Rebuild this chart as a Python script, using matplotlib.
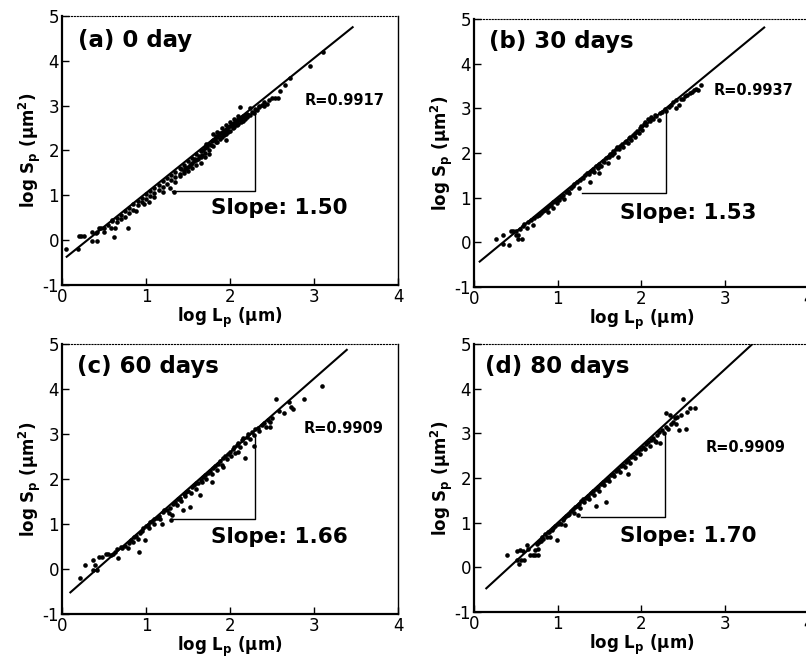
import numpy as np
import matplotlib
matplotlib.use("Agg")
import matplotlib.pyplot as plt

plt.rcParams['font.family'] = ['DejaVu Sans']
plt.rcParams['axes.unicode_minus'] = False

# panel labels and texts
titles = ['(a) 0 day', '(b) 30 days', '(c) 60 days', '(d) 80 days']
r_texts = ['R=0.9917', 'R=0.9937', 'R=0.9909', 'R=0.9909']
slope_texts = ['Slope: 1.50', 'Slope: 1.53', 'Slope: 1.66', 'Slope: 1.70']

# fitted line end points
fit_a = [(0.056, -0.37), (3.46, 4.75)]
fit_b = [(0.068, -0.43), (3.47, 4.81)]
fit_c = [(0.10, -0.52), (3.39, 4.87)]
fit_d = [(0.147, -0.47), (3.33, 5.0)]

# slope triangles: horizontal from x0 to x1 at y0, vertical at x1 up to y1
tri_a = [1.31, 2.30, 1.10, 2.90]
tri_b = [1.29, 2.30, 1.10, 2.96]
tri_c = [1.31, 2.30, 1.11, 2.96]
tri_d = [1.28, 2.28, 1.13, 2.99]

pts_a = [(0.05,-0.20),(0.19,-0.19),(0.20,0.09),(0.23,0.09),(0.26,0.09),(0.36,-0.03),
         (0.42,-0.03),(0.36,0.19),(0.40,0.17),(0.42,0.19),(0.44,0.27),(0.47,0.27),
         (0.62,0.07),(0.79,0.28),(0.50,0.27),(0.50,0.19),(0.55,0.33),(0.58,0.27),
         (0.60,0.42),(0.60,0.45),(0.63,0.27),(0.65,0.50),(0.65,0.40),(0.70,0.57),
         (0.70,0.48),(0.75,0.64),(0.75,0.52),(0.80,0.72),(0.80,0.60),(0.85,0.80),
         (0.85,0.68),(0.88,0.66),(0.90,0.87),(0.90,0.78),(0.95,0.94),(0.95,0.85),
         (0.98,0.80),(1.00,1.02),(1.00,0.92),(1.03,0.86),(1.05,1.09),(1.05,0.98),
         (1.10,1.16),(1.10,1.05),(1.10,0.96),(1.15,1.24),(1.15,1.12),(1.20,1.31),
         (1.20,1.18),(1.20,1.08),(1.25,1.39),(1.25,1.26),(1.28,1.16),(1.30,1.46),
         (1.30,1.34),(1.33,1.08),(1.35,1.53),(1.35,1.40),(1.35,1.30),(1.40,1.61),
         (1.40,1.48),(1.40,1.42),(1.45,1.68),(1.45,1.55),(1.45,1.50),(1.48,1.62),
         (1.50,1.76),(1.50,1.64),(1.50,1.55),(1.53,1.70),(1.55,1.84),(1.55,1.72),
         (1.55,1.62),(1.58,1.80),(1.60,1.92),(1.60,1.78),(1.60,1.68),(1.63,1.88),
         (1.65,1.98),(1.65,1.86),(1.65,1.71),(1.68,2.00),(1.70,2.06),(1.70,1.94),
         (1.70,1.85),(1.72,2.14),(1.75,2.15),(1.75,2.02),(1.75,1.92),(1.78,2.22),
         (1.80,2.24),(1.80,2.10),(1.80,2.36),(1.83,2.18),(1.83,2.32),(1.85,2.30),
         (1.85,2.20),(1.85,2.42),(1.88,2.38),(1.88,2.26),(1.90,2.40),(1.90,2.30),
         (1.90,2.50),(1.93,2.44),(1.93,2.34),(1.95,2.46),(1.95,2.36),(1.95,2.56),
         (1.95,2.23),(1.98,2.52),(1.98,2.42),(2.00,2.55),(2.00,2.44),(2.00,2.64),
         (2.03,2.60),(2.03,2.50),(2.05,2.62),(2.05,2.52),(2.05,2.70),(2.08,2.66),
         (2.08,2.56),(2.10,2.70),(2.10,2.60),(2.10,2.76),(2.12,2.98),(2.13,2.72),
         (2.13,2.64),(2.15,2.76),(2.15,2.66),(2.18,2.80),(2.18,2.70),(2.20,2.82),
         (2.20,2.74),(2.24,2.95),(2.24,2.80),(2.26,2.86),(2.28,2.84),(2.30,2.92),
         (2.32,2.90),(2.35,2.96),(2.35,3.00),(2.38,3.02),(2.40,3.08),(2.40,3.00),
         (2.44,3.04),(2.47,3.12),(2.50,3.16),(2.54,3.18),(2.57,3.16),(2.60,3.32),
         (2.66,3.45),(2.72,3.62),(2.95,3.88),(3.11,4.20),
         (1.62,1.82),(1.67,1.90),(1.73,2.08),(1.77,2.12),(1.82,2.26),(1.87,2.34),
         (1.92,2.40),(1.97,2.48),(2.02,2.56),(2.07,2.62),(2.12,2.68),(2.17,2.74),
         (2.22,2.80),(1.42,1.58),(1.47,1.60),(1.52,1.68),(1.57,1.76)]

pts_b = [(0.26,0.08),(0.35,0.17),(0.35,-0.04),(0.42,-0.06),(0.44,0.26),(0.47,0.26),
         (0.50,0.26),(0.50,0.17),(0.53,0.17),(0.53,0.07),(0.57,0.07),(0.55,0.30),
         (0.58,0.36),(0.60,0.40),(0.63,0.32),(0.65,0.45),(0.68,0.50),(0.71,0.39),
         (0.72,0.55),(0.75,0.58),(0.78,0.62),(0.80,0.66),(0.82,0.70),(0.85,0.72),
         (0.87,0.76),(0.88,0.68),(0.90,0.82),(0.92,0.84),(0.94,0.78),(0.95,0.90),
         (0.97,0.92),(0.99,0.88),(1.00,0.98),(1.02,0.95),(1.04,1.02),(1.06,1.05),
         (1.08,0.98),(1.10,1.12),(1.12,1.15),(1.14,1.10),(1.16,1.22),(1.18,1.26),
         (1.20,1.30),(1.23,1.36),(1.26,1.21),(1.27,1.40),(1.30,1.44),(1.33,1.50),
         (1.35,1.55),(1.37,1.52),(1.39,1.36),(1.40,1.60),(1.42,1.64),(1.44,1.58),
         (1.46,1.70),(1.48,1.66),(1.49,1.55),(1.50,1.76),(1.52,1.72),(1.54,1.82),
         (1.56,1.80),(1.58,1.88),(1.60,1.78),(1.61,1.92),(1.63,1.98),(1.65,1.95),
         (1.66,2.04),(1.68,2.00),(1.70,2.08),(1.71,2.14),(1.72,1.92),(1.73,2.10),
         (1.75,2.16),(1.77,2.20),(1.78,2.14),(1.80,2.24),(1.82,2.28),(1.84,2.22),
         (1.85,2.34),(1.87,2.36),(1.88,2.30),(1.90,2.40),(1.92,2.36),(1.93,2.45),
         (1.95,2.50),(1.97,2.44),(1.98,2.56),(2.00,2.60),(2.01,2.52),(2.03,2.66),
         (2.05,2.70),(2.06,2.62),(2.08,2.76),(2.10,2.72),(2.12,2.80),(2.14,2.76),
         (2.16,2.84),(2.18,2.82),(2.21,2.74),(2.22,2.90),(2.25,2.92),(2.28,2.98),
         (2.30,2.94),(2.33,3.04),(2.36,3.08),(2.38,3.14),(2.41,3.00),(2.42,3.18),
         (2.45,3.08),(2.47,3.22),(2.50,3.20),(2.52,3.28),(2.55,3.30),(2.58,3.34),
         (2.61,3.37),(2.63,3.42),(2.66,3.44),(2.68,3.40),(2.71,3.52)]

pts_c = [(0.21,-0.21),(0.27,0.09),(0.37,0.20),(0.39,0.09),(0.37,-0.02),(0.42,-0.02),
         (0.44,0.27),(0.48,0.27),(0.52,0.34),(0.55,0.34),(0.58,0.30),(0.61,0.34),
         (0.63,0.38),(0.67,0.25),(0.66,0.45),(0.70,0.48),(0.72,0.46),(0.75,0.50),
         (0.78,0.46),(0.80,0.58),(0.82,0.65),(0.84,0.60),(0.86,0.70),(0.88,0.74),
         (0.90,0.66),(0.92,0.38),(0.93,0.80),(0.95,0.84),(0.97,0.90),(0.99,0.64),
         (1.00,0.95),(1.02,0.98),(1.04,0.92),(1.05,1.04),(1.07,1.06),(1.09,1.00),
         (1.10,1.10),(1.13,1.14),(1.15,1.18),(1.17,1.12),(1.19,1.01),(1.20,1.26),
         (1.22,1.30),(1.25,1.32),(1.27,1.24),(1.28,1.36),(1.30,1.09),(1.31,1.20),
         (1.32,1.44),(1.35,1.48),(1.37,1.42),(1.38,1.56),(1.40,1.58),(1.42,1.50),
         (1.44,1.31),(1.45,1.66),(1.47,1.62),(1.48,1.70),(1.50,1.74),(1.52,1.38),
         (1.53,1.68),(1.55,1.82),(1.57,1.86),(1.59,1.78),(1.60,1.90),(1.62,1.92),
         (1.64,1.64),(1.65,1.98),(1.67,1.94),(1.68,2.04),(1.70,2.08),(1.72,2.00),
         (1.74,2.14),(1.76,2.18),(1.78,1.94),(1.78,2.12),(1.80,2.24),(1.82,2.28),
         (1.84,2.20),(1.86,2.34),(1.88,2.40),(1.90,2.32),(1.92,2.27),(1.92,2.46),
         (1.94,2.50),(1.96,2.44),(1.98,2.56),(2.00,2.60),(2.01,2.50),(2.03,2.66),
         (2.05,2.70),(2.06,2.58),(2.08,2.76),(2.10,2.61),(2.10,2.80),(2.12,2.72),
         (2.14,2.86),(2.16,2.90),(2.18,2.47),(2.18,2.80),(2.20,2.94),(2.22,3.00),
         (2.24,2.88),(2.26,3.04),(2.28,2.98),(2.29,2.73),(2.30,3.10),(2.33,3.14),
         (2.35,3.06),(2.38,3.20),(2.40,3.24),(2.43,3.16),(2.45,3.30),(2.48,3.27),
         (2.48,3.16),(2.50,3.36),(2.55,3.77),(2.58,3.50),(2.64,3.46),(2.70,3.70),
         (2.73,3.61),(2.75,3.55),(2.88,3.77),(3.10,4.07)]

pts_d = [(0.40,0.28),(0.52,0.36),(0.55,0.38),(0.58,0.36),(0.52,0.16),(0.56,0.16),
         (0.60,0.16),(0.54,0.08),(0.63,0.50),(0.65,0.42),(0.67,0.28),(0.70,0.28),
         (0.73,0.28),(0.76,0.28),(0.73,0.39),(0.77,0.42),(0.75,0.52),(0.78,0.56),
         (0.80,0.60),(0.81,0.69),(0.83,0.64),(0.85,0.74),(0.87,0.69),(0.88,0.78),
         (0.90,0.80),(0.91,0.69),(0.93,0.84),(0.95,0.88),(0.97,0.92),(0.99,0.62),
         (1.00,0.96),(1.02,1.00),(1.04,0.98),(1.06,1.06),(1.08,1.10),(1.09,0.95),
         (1.10,1.14),(1.12,1.18),(1.14,1.20),(1.16,1.26),(1.18,1.30),(1.19,1.21),
         (1.21,1.34),(1.23,1.38),(1.24,1.17),(1.25,1.42),(1.27,1.32),(1.28,1.48),
         (1.30,1.52),(1.32,1.46),(1.34,1.56),(1.36,1.60),(1.38,1.54),(1.40,1.66),
         (1.42,1.70),(1.44,1.62),(1.46,1.37),(1.46,1.76),(1.48,1.80),(1.50,1.72),
         (1.52,1.86),(1.54,1.90),(1.56,1.84),(1.58,1.47),(1.58,1.96),(1.60,2.00),
         (1.62,1.94),(1.64,2.06),(1.66,2.10),(1.68,2.04),(1.70,2.16),(1.72,2.20),
         (1.74,2.14),(1.76,2.26),(1.78,2.30),(1.80,2.24),(1.82,2.36),(1.84,2.08),
         (1.84,2.40),(1.86,2.34),(1.88,2.46),(1.90,2.50),(1.92,2.44),(1.94,2.56),
         (1.96,2.60),(1.98,2.54),(2.00,2.66),(2.02,2.70),(2.04,2.64),(2.06,2.76),
         (2.08,2.80),(2.10,2.72),(2.12,2.86),(2.14,2.90),(2.16,2.82),(2.18,2.80),
         (2.19,2.96),(2.21,3.04),(2.23,2.78),(2.25,3.08),(2.27,3.00),(2.29,3.45),
         (2.30,3.14),(2.32,3.10),(2.34,3.40),(2.35,3.20),(2.38,3.26),(2.40,3.34),
         (2.41,3.22),(2.43,3.36),(2.45,3.07),(2.48,3.40),(2.50,3.77),(2.53,3.10),
         (2.55,3.48),(2.58,3.56),(2.64,3.56)]

# text positions in data coords: title, R, slope
pos_title = [(0.19, 4.46), (0.18, 4.49), (0.18, 4.49), (0.13, 4.50)]
pos_r = [(2.89, 3.12), (2.87, 3.41), (2.88, 3.13), (2.77, 2.69)]
pos_slope = [(1.77, 0.71), (1.75, 0.66), (1.77, 0.71), (1.74, 0.70)]

# axes rectangles [left, bottom, width, height] in figure fraction
rects = [[0.0769, 0.5669, 0.4169, 0.4088],
         [0.5881, 0.5638, 0.4150, 0.4073],
         [0.0769, 0.0669, 0.4169, 0.4103],
         [0.5881, 0.0699, 0.4150, 0.4073]]

pts_all = [pts_a, pts_b, pts_c, pts_d]
fits = [fit_a, fit_b, fit_c, fit_d]
tris = [tri_a, tri_b, tri_c, tri_d]

fig = plt.figure(figsize=(8.06, 6.58), dpi=100)

for i in range(4):
    ax = fig.add_axes(rects[i])
    p = np.array(pts_all[i])
    ax.scatter(p[:, 0], p[:, 1], s=11, c='black', linewidths=0, zorder=3)
    f = np.array(fits[i])
    ax.plot(f[:, 0], f[:, 1], color='black', lw=1.5, zorder=2)
    t = tris[i]
    ax.plot([t[0], t[1], t[1]], [t[2], t[2], t[3]], color='black', lw=1.0)

    ax.text(pos_title[i][0], pos_title[i][1], titles[i], fontsize=16.5,
            fontweight='bold', va='center', ha='left')
    ax.text(pos_r[i][0], pos_r[i][1], r_texts[i], fontsize=10.5,
            fontweight='bold', va='center', ha='left')
    ax.text(pos_slope[i][0], pos_slope[i][1], slope_texts[i], fontsize=15.5,
            fontweight='bold', va='center', ha='left')

    ax.set_xlim(0, 4)
    ax.set_ylim(-1, 5)
    ax.set_xticks([0, 1, 2, 3, 4])
    ax.set_yticks([-1, 0, 1, 2, 3, 4, 5])
    ax.tick_params(direction='in', length=5, width=1, labelsize=12, pad=2)
    ax.set_xlabel('log L$_\\mathregular{p}$ (μm)', fontsize=12,
                  fontweight='bold', labelpad=0)
    ax.set_ylabel('log S$_\\mathregular{p}$ (μm$^\\mathregular{2}$)', fontsize=12,
                  fontweight='bold', labelpad=0)

    ax.spines['left'].set_linewidth(1.6)
    ax.spines['bottom'].set_linewidth(1.6)
    ax.spines['top'].set_linewidth(0.8)
    ax.spines['top'].set_linestyle(':')
    ax.spines['right'].set_linewidth(1.0)

fig.savefig('out.png', dpi=100)
